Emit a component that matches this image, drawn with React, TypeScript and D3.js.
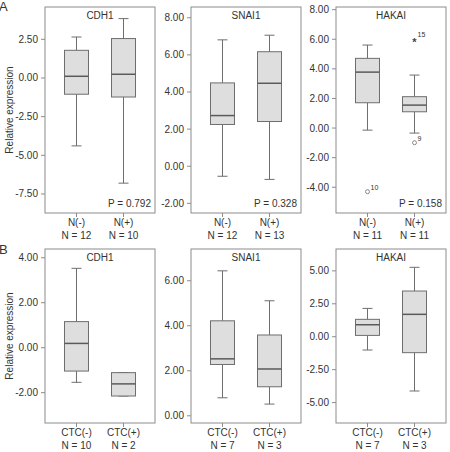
import React from 'react';
import * as d3 from 'd3';

// ---- data ----
const genes = ['CDH1', 'SNAI1', 'HAKAI'];

// row A: lymph node status
const nodeGroups = ['N(-)', 'N(+)'];
const nodeCounts = [[12, 10], [12, 13], [11, 11]];
const nodePValues = ['0.792', '0.328', '0.158'];
// [lower whisker, Q1, median, Q3, upper whisker]
const cdh1Node = [[-4.39, -1.05, 0.11, 1.79, 2.65], [-6.8, -1.23, 0.24, 2.55, 3.84]];
const snai1Node = [[-0.54, 2.25, 2.73, 4.49, 6.81], [-0.71, 2.41, 4.47, 6.17, 7.06]];
const hakaiNode = [[-0.14, 1.71, 3.78, 4.71, 5.61], [-0.34, 1.1, 1.55, 2.12, 3.58]];
const hakaiNodeOutliers = [
  { group: 0, value: -4.3, label: '10', kind: 'circle' },
  { group: 1, value: -0.99, label: '9', kind: 'circle' },
  { group: 1, value: 5.99, label: '15', kind: 'star' },
];
const nodeTicks = [[-7.5, -5, -2.5, 0, 2.5], [-2, 0, 2, 4, 6, 8], [-4, -2, 0, 2, 4, 6, 8]];
const nodeDomains = [[-8.73, 4.59], [-2.52, 8.58], [-5.74, 8.18]];

// row B: circulating tumour cells
const ctcGroups = ['CTC(-)', 'CTC(+)'];
const ctcCounts = [[10, 2], [7, 3], [7, 3]];
const cdh1Ctc = [[-1.54, -1.04, 0.19, 1.16, 3.53], [-2.15, -2.15, -1.61, -1.11, -1.11]];
const snai1Ctc = [[0.8, 2.28, 2.53, 4.22, 6.44], [0.52, 1.29, 2.08, 3.59, 5.11]];
const hakaiCtc = [[-1.01, 0.1, 0.91, 1.32, 2.15], [-4.12, -1.21, 1.7, 3.47, 5.27]];
const ctcTicks = [[-2, 0, 2, 4], [0, 2, 4, 6], [-5, -2.5, 0, 2.5, 5]];
const ctcDomains = [[-3.35, 4.39], [-0.32, 7.41], [-6.55, 6.66]];

const W = 450;
const H = 452;
const FONT = '"Liberation Sans", Arial, sans-serif';
const TEXT = '#333';
const FRAME = '#8c8c8c';
const BOX_FILL = '#dedede';
const BOX_STROKE = '#6e6e6e';

const panelLefts = [45, 191, 336];
const panelWidth = 110;
const rows = [
  { top: 7, bottom: 213, groups: nodeGroups, counts: nodeCounts, stats: [cdh1Node, snai1Node, hakaiNode], ticks: nodeTicks, domains: nodeDomains, pvals: nodePValues, letter: 'A' },
  { top: 249, bottom: 423, groups: ctcGroups, counts: ctcCounts, stats: [cdh1Ctc, snai1Ctc, hakaiCtc], ticks: ctcTicks, domains: ctcDomains, pvals: null, letter: 'B' },
];

const fmt = (v: number) => v.toFixed(2);

function Panel({ row, i }: { row: any; i: number }) {
  const left = panelLefts[i];
  const right = left + panelWidth;
  const y = d3.scaleLinear().domain(row.domains[i]).range([row.bottom, row.top]);
  const x = d3.scalePoint<string>().domain(row.groups).range([left, right]).padding(0.67);
  const boxW = 24;
  const capW = 10;
  const outliers = row.letter === 'A' && i === 2 ? hakaiNodeOutliers : [];

  return (
    <g>
      <rect x={left} y={row.top} width={panelWidth} height={row.bottom - row.top} fill="#fff" stroke={FRAME} strokeWidth={1} />
      {row.ticks[i].map((t: number) => (
        <g key={t} transform={`translate(${left},${y(t)})`}>
          <line x1={-4} x2={0} stroke={FRAME} />
          <text x={-7} dy="0.35em" textAnchor="end" fontSize={10} fill={TEXT}>{fmt(t)}</text>
        </g>
      ))}
      <text x={(left + right) / 2} y={row.top + 12} textAnchor="middle" fontSize={10} fill={TEXT}>{genes[i]}</text>
      {row.groups.map((g: string, j: number) => {
        const s = row.stats[i][j];
        const cx = x(g)!;
        return (
          <g key={g}>
            <line x1={cx} x2={cx} y1={row.bottom} y2={row.bottom + 4} stroke={FRAME} />
            <line x1={cx} x2={cx} y1={y(s[0])} y2={y(s[1])} stroke={BOX_STROKE} />
            <line x1={cx} x2={cx} y1={y(s[3])} y2={y(s[4])} stroke={BOX_STROKE} />
            <line x1={cx - capW / 2} x2={cx + capW / 2} y1={y(s[0])} y2={y(s[0])} stroke={BOX_STROKE} />
            <line x1={cx - capW / 2} x2={cx + capW / 2} y1={y(s[4])} y2={y(s[4])} stroke={BOX_STROKE} />
            <rect x={cx - boxW / 2} y={y(s[3])} width={boxW} height={y(s[1]) - y(s[3])} fill={BOX_FILL} stroke={BOX_STROKE} />
            <line x1={cx - boxW / 2} x2={cx + boxW / 2} y1={y(s[2])} y2={y(s[2])} stroke="#5a5a5a" strokeWidth={1.5} />
            <text x={cx} y={row.bottom + 13} textAnchor="middle" fontSize={10} fill={TEXT}>{g}</text>
            <text x={cx} y={row.bottom + 26} textAnchor="middle" fontSize={10} fill={TEXT}>{`N = ${row.counts[i][j]}`}</text>
          </g>
        );
      })}
      {outliers.map((o, k) => {
        const cx = x(row.groups[o.group])!;
        const cy = y(o.value);
        return (
          <g key={k}>
            {o.kind === 'circle'
              ? <circle cx={cx} cy={cy} r={2} fill="none" stroke={BOX_STROKE} strokeWidth={0.8} />
              : <text x={cx} y={cy} dy="0.6em" textAnchor="middle" fontSize={11} fontWeight="bold" fill="#444">*</text>}
            <text x={cx + 3} y={cy - 2} fontSize={7} fill={TEXT}>{o.label}</text>
          </g>
        );
      })}
      {row.pvals && (
        <text x={right - 4} y={row.bottom - 6} textAnchor="end" fontSize={10} fill={TEXT}>{`P = ${row.pvals[i]}`}</text>
      )}
    </g>
  );
}

export default function App() {
  return (
    <svg width={W} height={H} style={{ position: 'absolute', left: 0, top: 0, background: '#fff' }} fontFamily={FONT}>
      <rect width={W} height={H} fill="#fff" />
      {rows.map((row, r) => (
        <g key={row.letter}>
          <text x={-1} y={row.top + (r === 0 ? 4 : 5)} fontSize={13} fill={TEXT}>{row.letter}</text>
          <text
            transform={`translate(9,${(row.top + row.bottom) / 2}) rotate(-90)`}
            textAnchor="middle"
            dy="0.35em"
            fontSize={10}
            fill={TEXT}
          >
            Relative expression
          </text>
          {genes.map((g, i) => <Panel key={g} row={row} i={i} />)}
        </g>
      ))}
    </svg>
  );
}
